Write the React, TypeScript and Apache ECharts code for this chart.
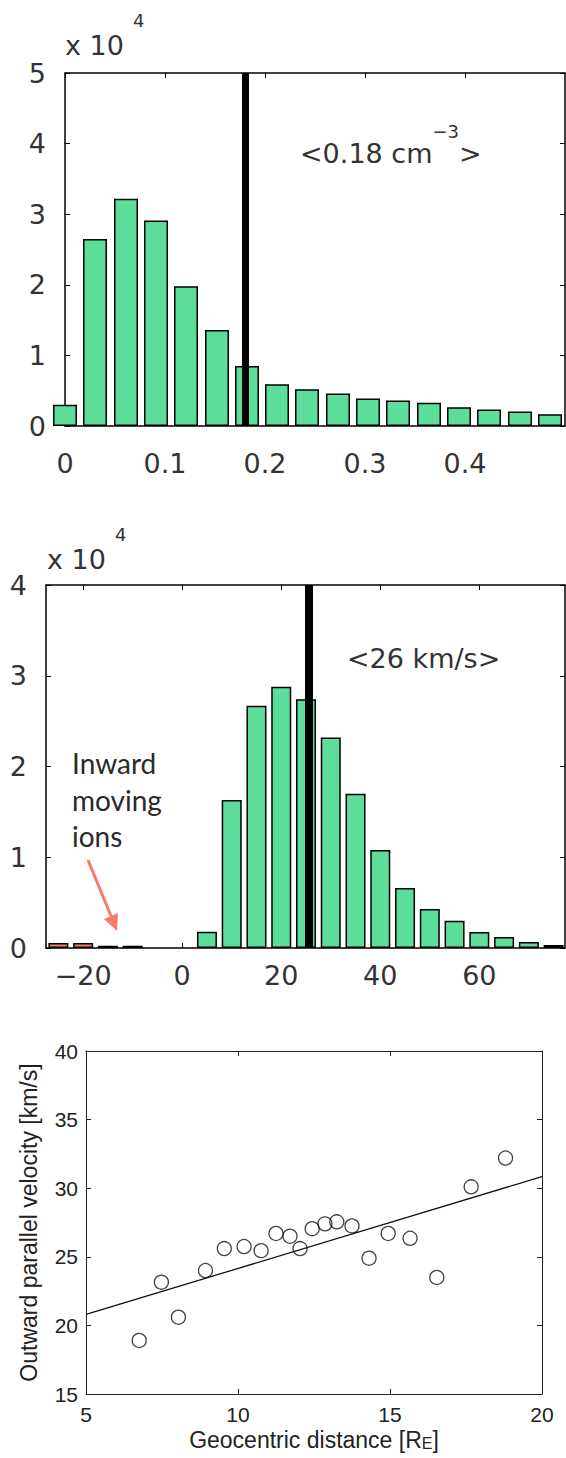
import React, { useEffect, useRef } from "react";
import * as echarts from "echarts";

// ---------- data ----------
// Panel 1: density histogram (counts x 10^4)
const densityBins = [0, 0.03, 0.061, 0.091, 0.121, 0.152, 0.182, 0.212, 0.242, 0.273, 0.303, 0.333, 0.364, 0.394, 0.424, 0.455, 0.485];
const densityCounts = [0.3, 2.65, 3.22, 2.91, 1.98, 1.36, 0.85, 0.59, 0.52, 0.46, 0.39, 0.36, 0.33, 0.265, 0.235, 0.205, 0.165];
const densityMean = 0.18;
const densityTicks = [0, 0.1, 0.2, 0.3, 0.4];

// Panel 2: parallel velocity histogram (counts x 10^4)
const inwardBins = [-25, -20, -15, -10];
const inwardCounts = [0.055, 0.055, 0.025, 0.025];
const outwardBins = [5, 10, 15, 20, 25, 30, 35, 40, 45, 50, 55, 60, 65, 70, 75];
const outwardCounts = [0.18, 1.63, 2.67, 2.88, 2.74, 2.32, 1.7, 1.08, 0.66, 0.43, 0.3, 0.176, 0.12, 0.066, 0.033];
const velocityMean = 25.6;
const velocityTicks = [-20, 0, 20, 40, 60];

// Panel 3: velocity vs geocentric distance
const distance = [6.75, 7.48, 8.04, 8.93, 9.55, 10.2, 10.76, 11.25, 11.71, 12.04, 12.44, 12.86, 13.25, 13.75, 14.31, 14.94, 15.66, 16.54, 17.67, 18.8];
const velocity = [18.9, 23.15, 20.6, 24.0, 25.6, 25.75, 25.45, 26.7, 26.5, 25.6, 27.05, 27.4, 27.55, 27.25, 24.9, 26.7, 26.35, 23.5, 30.1, 32.2];
const fitX = [5, 20];
const fitY = [20.8, 30.85];

// ---------- styles ----------
const FONT = "DejaVu Sans";
const FONT3 = "Liberation Sans";
const TXT = "#333";
const GREEN = "#5cdd9b";
const SALMON = "#f4806c";
const ARROW = "#f87a6a";

const minusFmt = (v: number) => (v < 0 ? "\u2212" + Math.abs(v) : String(v));

function boxAxes(
  gridIndex: number,
  x: { min: number; max: number; ticks: number[]; margin: number; fmt?: any },
  y: { min: number; max: number; interval: number; margin: number },
  font: string,
  size: number,
  color: string,
  lineColor: string,
  lineWidth: number
) {
  const lineStyle = { color: lineColor, width: lineWidth };
  const tickStyle = { color: lineColor, width: 1 };
  const xAxes = [
    {
      gridIndex, type: "value", min: x.min, max: x.max, position: "bottom",
      axisLine: { show: true, onZero: false, lineStyle },
      axisTick: { show: true, inside: true, length: 5, customValues: x.ticks, lineStyle: tickStyle },
      axisLabel: { show: true, customValues: x.ticks, margin: x.margin, fontFamily: font, fontSize: size, color, formatter: x.fmt },
      splitLine: { show: false },
    },
    {
      gridIndex, type: "value", min: x.min, max: x.max, position: "top",
      axisLine: { show: true, onZero: false, lineStyle },
      axisTick: { show: true, inside: true, length: 5, customValues: x.ticks, lineStyle: tickStyle },
      axisLabel: { show: false },
      splitLine: { show: false },
    },
  ];
  const yAxes = [
    {
      gridIndex, type: "value", min: y.min, max: y.max, interval: y.interval, position: "left",
      axisLine: { show: true, onZero: false, lineStyle },
      axisTick: { show: true, inside: true, length: 5, lineStyle: tickStyle },
      axisLabel: { show: true, margin: y.margin, fontFamily: font, fontSize: size, color },
      splitLine: { show: false },
    },
    {
      gridIndex, type: "value", min: y.min, max: y.max, interval: y.interval, position: "right",
      axisLine: { show: true, onZero: false, lineStyle },
      axisTick: { show: true, inside: true, length: 5, lineStyle: tickStyle },
      axisLabel: { show: false },
      splitLine: { show: false },
    },
  ];
  return { xAxes, yAxes };
}

export default function App() {
  const ref = useRef<HTMLDivElement>(null);

  useEffect(() => {
    if (!ref.current) return;
    const chart = echarts.init(ref.current, undefined, { renderer: "svg" });

    const p1 = boxAxes(0, { min: 0, max: 0.5, ticks: densityTicks, margin: 24 }, { min: 0, max: 5, interval: 1, margin: 19 }, FONT, 27, TXT, "#000", 1.5);
    const p2 = boxAxes(1, { min: -27.5, max: 77.3, ticks: velocityTicks, margin: 14, fmt: minusFmt }, { min: 0, max: 4, interval: 1, margin: 19 }, FONT, 27, TXT, "#000", 1.5);
    const p3 = boxAxes(2, { min: 5, max: 20, ticks: [5, 10, 15, 20], margin: 10 }, { min: 15, max: 40, interval: 5, margin: 8 }, FONT3, 21, "#222", "#222", 1);

    // axis names for panel 3
    (p3.xAxes[0] as any).name = "Geocentric distance [R{sub|E}]";
    (p3.xAxes[0] as any).nameLocation = "middle";
    (p3.xAxes[0] as any).nameGap = 34;
    (p3.xAxes[0] as any).nameTextStyle = {
      fontFamily: FONT3, fontSize: 23, color: "#222",
      rich: { sub: { fontFamily: FONT3, fontSize: 16, color: "#222", verticalAlign: "bottom", lineHeight: 14 } },
    };
    (p3.yAxes[0] as any).name = "Outward parallel velocity [km/s]";
    (p3.yAxes[0] as any).nameLocation = "middle";
    (p3.yAxes[0] as any).nameGap = 46;
    (p3.yAxes[0] as any).nameTextStyle = { fontFamily: FONT3, fontSize: 23, color: "#222" };

    const barEdge = { borderColor: "#000", borderWidth: 1.5 };

    const velocityData = [
      ...inwardBins.map((x, i) => ({ value: [x, inwardCounts[i]], itemStyle: { color: SALMON, ...barEdge } })),
      ...outwardBins.map((x, i) => ({ value: [x, outwardCounts[i]], itemStyle: { color: GREEN, ...barEdge } })),
    ];

    const supRich = (lh: number) => ({
      b: { fontFamily: FONT, fontSize: 27, fill: TXT, color: TXT, lineHeight: lh, verticalAlign: "middle" },
      s: { fontFamily: FONT, fontSize: 18, fill: TXT, color: TXT, lineHeight: 20, verticalAlign: "top" },
      sp: { fontFamily: FONT, fontSize: 18, fill: TXT, color: TXT, lineHeight: 20, verticalAlign: "top", padding: [0, 0, 0, 9] },
    });

    const option: any = {
      animation: false,
      backgroundColor: "#ffffff",
      grid: [
        { left: 65, top: 73, width: 500, height: 353 },
        { left: 46, top: 585, width: 519, height: 363 },
        { left: 86, top: 1051, width: 456, height: 343 },
      ],
      xAxis: [...p1.xAxes, ...p2.xAxes, ...p3.xAxes],
      yAxis: [...p1.yAxes, ...p2.yAxes, ...p3.yAxes],
      series: [
        {
          type: "bar", xAxisIndex: 0, yAxisIndex: 0, barWidth: 24, clip: true,
          data: densityBins.map((x, i) => [x, densityCounts[i]]),
          itemStyle: { color: GREEN, ...barEdge },
          markLine: {
            silent: true, symbol: "none", label: { show: false },
            lineStyle: { color: "#000", width: 7, type: "solid" },
            data: [{ xAxis: densityMean }],
          },
        },
        {
          type: "bar", xAxisIndex: 2, yAxisIndex: 2, barWidth: 20, clip: true,
          data: velocityData,
          markLine: {
            silent: true, symbol: "none", label: { show: false },
            lineStyle: { color: "#000", width: 8, type: "solid" },
            data: [{ xAxis: velocityMean }],
          },
        },
        {
          type: "line", xAxisIndex: 4, yAxisIndex: 4, symbol: "none",
          data: fitX.map((x, i) => [x, fitY[i]]),
          lineStyle: { color: "#111", width: 1.3 },
        },
        {
          type: "scatter", xAxisIndex: 4, yAxisIndex: 4, symbol: "circle", symbolSize: 14,
          data: distance.map((x, i) => [x, velocity[i]]),
          itemStyle: { color: "rgba(0,0,0,0)", borderColor: "#111", borderWidth: 1.3 },
        },
      ],
      graphic: [
        { type: "text", x: 65, y: 45, style: { text: "{b|x 10}{sp|4}", verticalAlign: "middle", rich: supRich(68) } },
        { type: "text", x: 300, y: 153, style: { text: "{b|<0.18 cm}{s|\u22123}{b|>}", verticalAlign: "middle", rich: supRich(62) } },
        { type: "text", x: 47, y: 559, style: { text: "{b|x 10}{sp|4}", verticalAlign: "middle", rich: supRich(68) } },
        { type: "text", x: 347, y: 658, style: { text: "<26 km/s>", verticalAlign: "middle", font: `27px "${FONT}"`, fill: TXT } },
        {
          type: "text", x: 72, y: 745,
          style: { text: "Inward\nmoving\nions", verticalAlign: "top", font: '28px Lato', lineHeight: 36.5, fill: "#2a2a2a" },
        },
        { type: "line", shape: { x1: 88, y1: 860, x2: 111, y2: 916 }, style: { stroke: ARROW, lineWidth: 3 } },
        { type: "polygon", shape: { points: [[117, 931], [104, 919], [118, 913]] }, style: { fill: ARROW } },
      ],
    };

    chart.setOption(option);
    return () => chart.dispose();
  }, []);

  return (
    <div
      ref={ref}
      style={{ position: "fixed", left: 0, top: 0, width: 566, height: 1458, background: "#fff" }}
    />
  );
}
